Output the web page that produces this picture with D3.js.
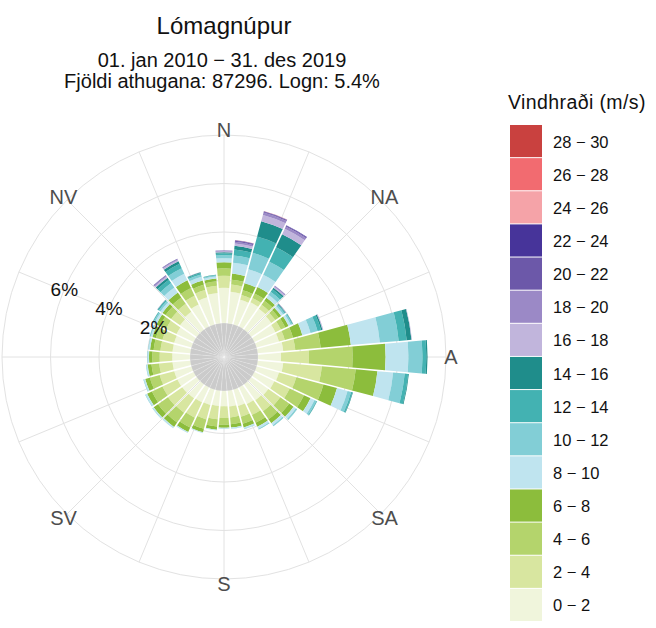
<!DOCTYPE html>
<html>
<head>
<meta charset="utf-8">
<script src="https://cdn.jsdelivr.net/npm/d3@7"></script>
<style>
  body { margin: 0; background: #fff; }
  text { font-family: "Liberation Sans", Arial, sans-serif; }
</style>
</head>
<body>
<svg id="chart" width="656" height="628"></svg>
<script>
// vindátt (gráður), 10° bil
const directions = [0, 10, 20, 30, 40, 50, 60, 70, 80, 90, 100, 110, 120, 130, 140, 150, 160, 170,
  180, 190, 200, 210, 220, 230, 240, 250, 260, 270, 280, 290, 300, 310, 320, 330, 340, 350];

const speedBins = ["0 − 2", "2 − 4", "4 − 6", "6 − 8", "8 − 10", "10 − 12", "12 − 14", "14 − 16",
  "16 − 18", "18 − 20", "20 − 22", "22 − 24", "24 − 26", "26 − 28", "28 − 30"];

const binColors = ["#f0f5dc", "#d8e6a0", "#b4d46c", "#8cbd3c", "#bfe4ef", "#82ced6", "#43b2b2", "#1f8d8b",
  "#c1b5dc", "#9b89c6", "#6c58a9", "#47349a", "#f5a3a8", "#f26b70", "#c9413f"];

// hlutfall (%) í hverju vindhraðabili, eftir átt
const s0_2 = [1.70, 1.55, 1.30, 1.35, 1.30, 1.25, 1.20, 1.20, 1.30, 1.20, 1.30, 1.20, 1.15, 1.10, 1.05, 1.00, 0.95, 0.90,
  0.88, 0.88, 0.90, 0.92, 0.95, 0.97, 0.98, 0.98, 0.98, 0.98, 0.98, 0.98, 1.02, 1.08, 1.15, 1.25, 1.40, 1.50];
const s2_4 = [0.50, 0.30, 0.20, 0.20, 0.20, 0.20, 0.25, 0.25, 0.50, 1.15, 1.60, 0.74, 0.70, 0.60, 0.55, 0.50, 0.45, 0.45,
  0.48, 0.55, 0.62, 0.70, 0.72, 0.72, 0.68, 0.62, 0.55, 0.52, 0.50, 0.50, 0.48, 0.45, 0.40, 0.40, 0.32, 0.30];
const s4_6 = [0.30, 0.20, 0.20, 0.20, 0.20, 0.17, 0.20, 0.35, 1.05, 1.80, 1.40, 1.16, 0.65, 0.45, 0.40, 0.35, 0.30, 0.28,
  0.28, 0.30, 0.40, 0.45, 0.50, 0.50, 0.48, 0.42, 0.32, 0.30, 0.28, 0.28, 0.28, 0.28, 0.32, 0.35, 0.22, 0.18];
const s6_8 = [0.25, 0.25, 0.30, 0.30, 0.15, 0.13, 0.15, 0.40, 1.25, 1.36, 0.90, 0.58, 0.30, 0.22, 0.20, 0.18, 0.16, 0.14,
  0.12, 0.13, 0.15, 0.20, 0.22, 0.22, 0.22, 0.20, 0.16, 0.14, 0.15, 0.15, 0.16, 0.16, 0.25, 0.35, 0.18, 0.12];
const s8_10 = [0.17, 0.45, 0.60, 0.55, 0.15, 0.10, 0.10, 0.35, 1.20, 0.94, 0.65, 0.45, 0.18, 0.12, 0.10, 0.09, 0.06, 0.04,
  0.03, 0.03, 0.04, 0.05, 0.06, 0.06, 0.07, 0.06, 0.05, 0.05, 0.06, 0.07, 0.09, 0.10, 0.25, 0.30, 0.16, 0.08];
const s10_12 = [0.12, 0.30, 0.70, 0.60, 0.15, 0.07, 0.06, 0.30, 0.78, 0.58, 0.48, 0.15, 0.08, 0.05, 0.04, 0.03, 0.02, 0.01,
  0.01, 0.00, 0.00, 0.00, 0.01, 0.01, 0.02, 0.02, 0.02, 0.02, 0.02, 0.04, 0.06, 0.08, 0.22, 0.25, 0.10, 0.04];
const s12_14 = [0.08, 0.25, 0.70, 0.65, 0.13, 0.04, 0.03, 0.15, 0.33, 0.16, 0.14, 0.06, 0.03, 0.01, 0.01, 0.01, 0, 0,
  0, 0, 0, 0, 0, 0, 0, 0, 0, 0, 0, 0.01, 0.03, 0.05, 0.17, 0.20, 0.06, 0.02];
const s14_16 = [0.05, 0.15, 0.65, 0.60, 0.08, 0.02, 0.01, 0.06, 0.20, 0.05, 0.03, 0.02, 0.01, 0, 0, 0, 0, 0,
  0, 0, 0, 0, 0, 0, 0, 0, 0, 0, 0, 0, 0.01, 0.02, 0.10, 0.12, 0.03, 0.01];
const s16_18 = [0.03, 0.10, 0.27, 0.25, 0.05, 0.01, 0, 0.02, 0.02, 0, 0, 0, 0, 0, 0, 0, 0, 0,
  0, 0, 0, 0, 0, 0, 0, 0, 0, 0, 0, 0, 0, 0.01, 0.06, 0.06, 0.01, 0];
const s18_20 = [0.02, 0.07, 0.10, 0.10, 0.03, 0.01, 0, 0.01, 0, 0, 0, 0, 0, 0, 0, 0, 0, 0,
  0, 0, 0, 0, 0, 0, 0, 0, 0, 0, 0, 0, 0, 0, 0.04, 0.03, 0, 0];
const s20_22 = [0.01, 0.04, 0.04, 0.04, 0.01, 0, 0, 0, 0, 0, 0, 0, 0, 0, 0, 0, 0, 0,
  0, 0, 0, 0, 0, 0, 0, 0, 0, 0, 0, 0, 0, 0, 0.02, 0.01, 0, 0];
const s22_24 = [0.01, 0.02, 0.02, 0.02, 0.01, 0, 0, 0, 0, 0, 0, 0, 0, 0, 0, 0, 0, 0,
  0, 0, 0, 0, 0, 0, 0, 0, 0, 0, 0, 0, 0, 0, 0.01, 0.01, 0, 0];
const s24_26 = [0, 0.01, 0.01, 0, 0, 0, 0, 0, 0, 0, 0, 0, 0, 0, 0, 0, 0, 0,
  0, 0, 0, 0, 0, 0, 0, 0, 0, 0, 0, 0, 0, 0, 0, 0, 0, 0];
const s26_28 = [0, 0, 0, 0, 0, 0, 0, 0, 0, 0, 0, 0, 0, 0, 0, 0, 0, 0,
  0, 0, 0, 0, 0, 0, 0, 0, 0, 0, 0, 0, 0, 0, 0, 0, 0, 0];
const s28_30 = [0, 0, 0, 0, 0, 0, 0, 0, 0, 0, 0, 0, 0, 0, 0, 0, 0, 0,
  0, 0, 0, 0, 0, 0, 0, 0, 0, 0, 0, 0, 0, 0, 0, 0, 0, 0];

const series = [s0_2, s2_4, s4_6, s6_8, s8_10, s10_12, s12_14, s14_16, s16_18, s18_20, s20_22, s22_24, s24_26, s26_28, s28_30];

const rTicks = [2, 4, 6];
const compassAngles = [0, 45, 90, 135, 180, 225, 270, 315];
const compassLabels = ["N", "NA", "A", "SA", "S", "SV", "", "NV"];

const titleText = "Lómagnúpur";
const subLines = ["01. jan 2010 − 31. des 2019", "Fjöldi athugana: 87296. Logn: 5.4%"];
const legendTitle = "Vindhraði (m/s)";

// ---------- teikning ----------
const svg = d3.select("#chart");
const cx = 224, cy = 357;
const toRad = (deg) => deg * Math.PI / 180;

const r = d3.scaleLinear().domain([0, 8]).range([28, 222]);

const rows = directions.map((dir, i) => {
  const row = { dir };
  speedBins.forEach((b, j) => { row[b] = series[j][i]; });
  return row;
});
const stacked = d3.stack().keys(speedBins)(rows);
const color = d3.scaleOrdinal().domain(speedBins).range(binColors);

const g = svg.append("g").attr("transform", `translate(${cx},${cy})`);

// hnitanet
const grid = g.append("g");
grid.selectAll("circle.ring")
  .data([2, 4, 6, 8])
  .join("circle")
  .attr("r", d => r(d))
  .attr("fill", "none")
  .attr("stroke", "#e2e2e2")
  .attr("stroke-width", 1);

grid.selectAll("line.spoke")
  .data(d3.range(0, 360, 22.5))
  .join("line")
  .attr("x1", 0).attr("y1", 0)
  .attr("x2", d => r(8) * Math.sin(toRad(d)))
  .attr("y2", d => -r(8) * Math.cos(toRad(d)))
  .attr("stroke", "#e2e2e2")
  .attr("stroke-width", 1);

// stöplar - hvítt bil milli átta, ekki milli hraðabila
const arc = d3.arc()
  .innerRadius(d => r(d[0]))
  .outerRadius(d => r(d[1]))
  .startAngle(d => toRad(d.data.dir - 5))
  .endAngle(d => toRad(d.data.dir + 5))
  .padAngle(0.016)
  .padRadius(100);

g.append("g")
  .selectAll("g")
  .data(stacked)
  .join("g")
  .attr("fill", d => color(d.key))
  .selectAll("path")
  .data(d => d.filter(p => p[1] - p[0] > 0))
  .join("path")
  .attr("d", arc);

// logn í miðju
const calmArc = d3.arc()
  .innerRadius(0)
  .outerRadius(34)
  .startAngle(d => toRad(d - 5))
  .endAngle(d => toRad(d + 5));
g.append("g")
  .selectAll("path")
  .data(directions)
  .join("path")
  .attr("d", calmArc)
  .attr("fill", "#cbcbcb")
  .attr("stroke", "rgba(255,255,255,0.3)")
  .attr("stroke-width", 0.5);

// áttaheiti
g.selectAll("text.compass")
  .data(compassAngles.map((a, i) => ({ a, label: compassLabels[i] })).filter(d => d.label))
  .join("text")
  .attr("x", d => 227 * Math.sin(toRad(d.a)))
  .attr("y", d => -227 * Math.cos(toRad(d.a)))
  .attr("text-anchor", "middle")
  .attr("dominant-baseline", "central")
  .attr("font-size", 20)
  .attr("fill", "#4d4d4d")
  .text(d => d.label);

// prósentumerki
const labAngle = toRad(293);
g.selectAll("text.pct")
  .data(rTicks)
  .join("text")
  .attr("x", d => r(d) * Math.sin(labAngle))
  .attr("y", d => -r(d) * Math.cos(labAngle))
  .attr("text-anchor", "middle")
  .attr("dominant-baseline", "central")
  .attr("font-size", 19)
  .attr("fill", "#111")
  .text(d => d + "%");

// titill
svg.append("text")
  .attr("x", cx).attr("y", 34)
  .attr("text-anchor", "middle")
  .attr("font-size", 24)
  .attr("fill", "#111")
  .text(titleText);

svg.selectAll("text.sub")
  .data(subLines)
  .join("text")
  .attr("x", 222)
  .attr("y", (d, i) => 67 + i * 21)
  .attr("text-anchor", "middle")
  .attr("font-size", 20)
  .attr("fill", "#111")
  .text(d => d);

// skýringar
const legend = svg.append("g").attr("transform", "translate(510,0)");
legend.append("text")
  .attr("x", -2).attr("y", 109)
  .attr("font-size", 19.5)
  .attr("letter-spacing", 0.4)
  .attr("fill", "#111")
  .text(legendTitle);

const legendBins = speedBins.slice().reverse();
const ly = d3.scaleBand().domain(legendBins).range([125, 622]);

legend.selectAll("rect")
  .data(legendBins)
  .join("rect")
  .attr("x", 0)
  .attr("y", d => ly(d))
  .attr("width", 32)
  .attr("height", ly.bandwidth() - 1)
  .attr("fill", d => color(d));

legend.selectAll("text.lab")
  .data(legendBins)
  .join("text")
  .attr("x", 43)
  .attr("y", d => ly(d) + ly.bandwidth() / 2)
  .attr("dominant-baseline", "central")
  .attr("font-size", 16.5)
  .attr("fill", "#111")
  .text(d => d);
</script>
</body>
</html>
